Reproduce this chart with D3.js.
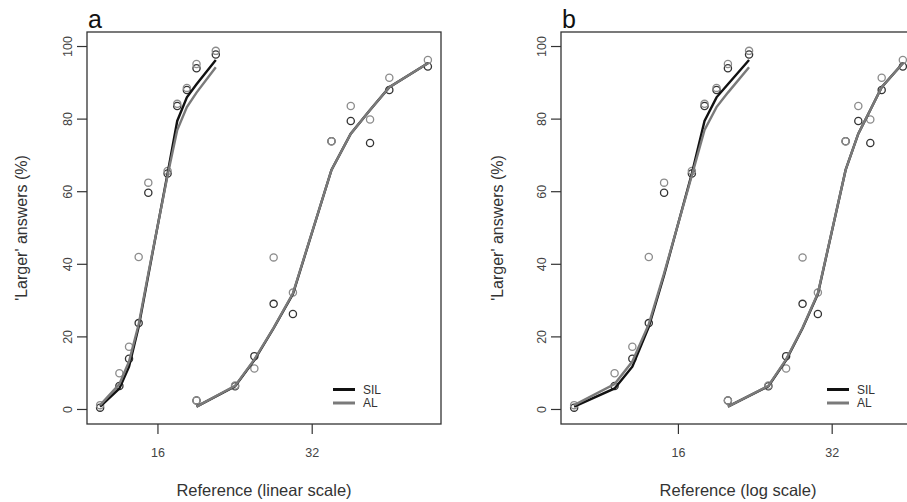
<!DOCTYPE html>
<html>
<head>
<meta charset="utf-8">
<script src="https://d3js.org/d3.v7.min.js"></script>
<style>
    body { margin: 0; background: #fff; }
    text { font-family: "Liberation Sans", Arial, sans-serif; }
</style>
</head>
<body>
<svg id="chart" width="907" height="502"></svg>
<script>
    // stimulus values (comparison numbers around reference 16 and 32)
    const xLow = [10, 12, 13, 14, 15, 17, 18, 19, 20, 22];
    const xHigh = [20, 24, 26, 28, 30, 34, 36, 38, 40, 44];

    // observed % "larger" answers
    const silLow = [0.5, 6.5, 14, 23.8, 59.7, 65, 83.6, 88, 94, 97.8];
    const alLow = [1.2, 10, 17.3, 42, 62.5, 65.7, 84.2, 88.6, 95.2, 98.8];
    const silHigh = [2.5, 6.4, 14.7, 29.1, 26.3, 73.9, 79.5, 73.4, 88.0, 94.5];
    const alHigh = [2.5, 6.6, 11.3, 41.9, 32.2, 73.9, 83.6, 79.9, 91.4, 96.3];

    // fitted curves at the same stimulus values
    const silFitLow = [0.8, 5.8, 11.8, 22.8, 37, 65, 79.5, 86, 89.6, 96.3];
    const alFitLow = [1.2, 7.0, 13.2, 23.5, 37.5, 64.5, 77, 83.3, 87.3, 94.3];
    const silFitHigh = [0.8, 6.4, 13.6, 22.4, 31.8, 66, 76, 82.5, 88.8, 95.4];
    const alFitHigh = [0.8, 6.5, 13.8, 22.5, 32, 66, 76, 82.5, 88.8, 95.4];

    const yTicks = [0, 20, 40, 60, 80, 100];
    const xTicks = [16, 32];

    const svg = d3.select("#chart");
    const plotTop = 32, plotBottom = 424;

    const y = d3.scaleLinear().domain([-4, 104]).range([plotBottom, plotTop]);

    const panels = [
        { letter: "a", label: "Reference (linear scale)",
          x: d3.scaleLinear().domain([8.64, 45.36]).range([87, 441]),
          ylab: 21, xlab: 264, legendX: 333 },
        { letter: "b", label: "Reference (log scale)",
          x: d3.scaleLog().base(2).domain([9.425, 46.69]).range([561, 916]),
          ylab: 497, xlab: 738, legendX: 827 }
    ];

    const groups = [
        { xs: xLow, sil: silLow, al: alLow, silFit: silFitLow, alFit: alFitLow },
        { xs: xHigh, sil: silHigh, al: alHigh, silFit: silFitHigh, alFit: alFitHigh }
    ];

    panels.forEach(p => {
        const g = svg.append("g");
        const [x0, x1] = p.x.range();

        // points: black first, gray on top
        groups.forEach(gr => {
            g.selectAll(null).data(gr.xs.map((v, i) => [v, gr.sil[i]]))
                .join("circle")
                .attr("cx", d => p.x(d[0])).attr("cy", d => y(d[1]))
                .attr("r", 3.6).attr("fill", "none")
                .attr("stroke", "#333").attr("stroke-width", 1.3);
            g.selectAll(null).data(gr.xs.map((v, i) => [v, gr.al[i]]))
                .join("circle")
                .attr("cx", d => p.x(d[0])).attr("cy", d => y(d[1]))
                .attr("r", 3.6).attr("fill", "none")
                .attr("stroke", "#8c8c8c").attr("stroke-width", 1.3);
        });

        const line = d3.line().x(d => p.x(d[0])).y(d => y(d[1]));
        groups.forEach(gr => {
            g.append("path").datum(gr.xs.map((v, i) => [v, gr.silFit[i]]))
                .attr("d", line).attr("fill", "none")
                .attr("stroke", "#111").attr("stroke-width", 2.4);
        });
        groups.forEach(gr => {
            g.append("path").datum(gr.xs.map((v, i) => [v, gr.alFit[i]]))
                .attr("d", line).attr("fill", "none")
                .attr("stroke", "#7a7a7a").attr("stroke-width", 2.4);
        });

        // box
        g.append("rect")
            .attr("x", x0).attr("y", plotTop)
            .attr("width", x1 - x0).attr("height", plotBottom - plotTop)
            .attr("fill", "none").attr("stroke", "#333").attr("stroke-width", 1.3);

        // y axis
        yTicks.forEach(t => {
            g.append("line")
                .attr("x1", x0 - 10).attr("x2", x0)
                .attr("y1", y(t)).attr("y2", y(t))
                .attr("stroke", "#333").attr("stroke-width", 1.2);
            g.append("text")
                .attr("transform", `translate(${x0 - 19},${y(t)}) rotate(-90)`)
                .attr("text-anchor", "middle").attr("dy", "0.35em")
                .attr("font-size", 12.5).attr("fill", "#444")
                .text(t);
        });

        // x axis
        xTicks.forEach(t => {
            g.append("line")
                .attr("x1", p.x(t)).attr("x2", p.x(t))
                .attr("y1", plotBottom).attr("y2", plotBottom + 10)
                .attr("stroke", "#333").attr("stroke-width", 1.2);
            g.append("text")
                .attr("x", p.x(t)).attr("y", 453)
                .attr("text-anchor", "middle").attr("dy", "0.35em")
                .attr("font-size", 12.5).attr("fill", "#444")
                .text(t);
        });

        g.append("text")
            .attr("x", p.xlab).attr("y", 490).attr("dy", "0.35em")
            .attr("text-anchor", "middle").attr("font-size", 16.5).attr("fill", "#333")
            .text(p.label);

        g.append("text")
            .attr("transform", `translate(${p.ylab},228) rotate(-90)`)
            .attr("text-anchor", "middle").attr("dy", "0.35em")
            .attr("font-size", 16).attr("fill", "#333")
            .text("'Larger' answers (%)");

        g.append("text")
            .attr("x", x0 + 1).attr("y", 28)
            .attr("font-size", 25).attr("fill", "#111")
            .text(p.letter);

        // legend
        const leg = [["SIL", "#111", 389.5], ["AL", "#7a7a7a", 403]];
        leg.forEach(l => {
            g.append("line")
                .attr("x1", p.legendX).attr("x2", p.legendX + 22)
                .attr("y1", l[2]).attr("y2", l[2])
                .attr("stroke", l[1]).attr("stroke-width", 3);
            g.append("text")
                .attr("x", p.legendX + 30).attr("y", l[2]).attr("dy", "0.35em")
                .attr("font-size", 12).attr("fill", "#333")
                .text(l[0]);
        });
    });
</script>
</body>
</html>
